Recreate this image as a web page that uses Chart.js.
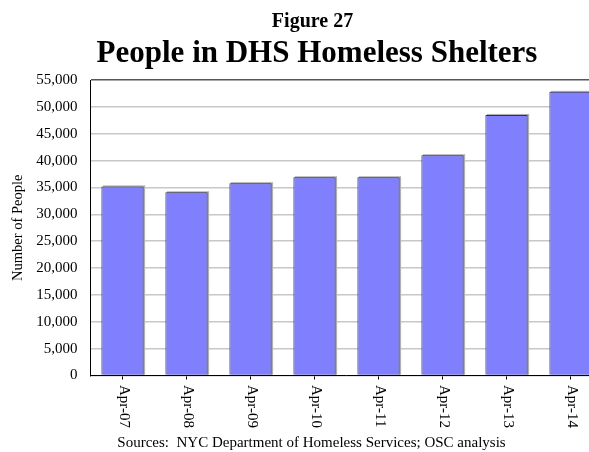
<!DOCTYPE html>
<html>
<head>
<meta charset="utf-8">
<script src="https://cdn.jsdelivr.net/npm/chart.js@4.4.1/dist/chart.umd.min.js"></script>
<style>
  html, body { margin: 0; padding: 0; background: #fff; overflow: hidden; }
  #wrap { width: 589px; height: 452px; overflow: hidden; position: relative; }
  #box { width: 610px; height: 452px; position: absolute; left: 0; top: 0; }
</style>
</head>
<body>
<div id="wrap"><div id="box"><canvas id="shelterChart"></canvas></div></div>
<script>
// data
const categories = ['Apr-07', 'Apr-08', 'Apr-09', 'Apr-10', 'Apr-11', 'Apr-12', 'Apr-13', 'Apr-14'];
const people = [35200, 34100, 35800, 36900, 36900, 41000, 48500, 52800];
const yMin = 0;
const yMax = 55000;
const yStep = 5000;

const serif = '"Liberation Serif", "Times New Roman", serif';

// titles and source line
const textPlugin = {
  id: 'figText',
  afterDraw(chart) {
    const ctx = chart.ctx;
    ctx.save();
    ctx.fillStyle = '#000';
    ctx.textAlign = 'center';
    ctx.textBaseline = 'alphabetic';
    ctx.font = 'bold 20px ' + serif;
    ctx.fillText('Figure 27', 312.5, 26.5);
    ctx.font = 'bold 31px ' + serif;
    ctx.fillText('People in DHS Homeless Shelters', 317, 62);
    ctx.font = '15px ' + serif;
    ctx.fillText('Sources:  NYC Department of Homeless Services; OSC analysis', 311.5, 447);
    ctx.restore();
  }
};

// x labels read top to bottom
const xLabelPlugin = {
  id: 'xLabels',
  afterDraw(chart) {
    const sx = chart.scales.x;
    const ctx = chart.ctx;
    ctx.save();
    ctx.font = '15px ' + serif;
    ctx.fillStyle = '#000';
    ctx.textAlign = 'left';
    ctx.textBaseline = 'middle';
    categories.forEach((lab, i) => {
      ctx.save();
      ctx.translate(sx.getPixelForTick(i) + 1, sx.top + 9.5);
      ctx.rotate(Math.PI / 2);
      ctx.fillText(lab, 0, 0);
      ctx.restore();
    });
    ctx.restore();
  }
};

// grey drop shadow behind the bars
const shadowPlugin = {
  id: 'barShadow',
  beforeDatasetsDraw(chart) {
    const ctx = chart.ctx;
    ctx.save();
    ctx.fillStyle = '#b0b0b0';
    chart.getDatasetMeta(0).data.forEach(bar => {
      const p = bar.getProps(['x', 'y', 'base', 'width'], true);
      ctx.fillRect(p.x - p.width / 2 + 1.5, p.y - 1, p.width, p.base - p.y + 1);
    });
    ctx.restore();
  }
};

const ctx = document.getElementById('shelterChart').getContext('2d');
const shelterChart = new Chart(ctx, {
  type: 'bar',
  data: {
    labels: categories,
    datasets: [{
      data: people,
      backgroundColor: '#8080ff',
      borderColor: '#2e2e5c',
      borderWidth: 1,
      barPercentage: 0.66,
      categoryPercentage: 1
    }]
  },
  options: {
    responsive: true,
    maintainAspectRatio: false,
    animation: false,
    layout: { padding: { top: 80, bottom: 6.5, left: 0, right: 7.5 } },
    plugins: {
      legend: { display: false },
      tooltip: { enabled: false }
    },
    scales: {
      x: {
        ticks: { display: false },
        grid: { display: true, drawOnChartArea: false, offset: false, tickLength: 4, color: '#000' },
        border: { display: true, color: '#000', width: 1 },
        afterFit: s => { s.height = 70; }
      },
      y: {
        min: yMin,
        max: yMax,
        ticks: {
          stepSize: yStep,
          padding: 13,
          color: '#000',
          font: { family: serif, size: 15 },
          callback: v => v.toLocaleString('en-US')
        },
        grid: {
          color: c => (c.tick && c.tick.value === yMax) ? '#555555' : '#c8c8c8',
          lineWidth: 1.5,
          drawTicks: false
        },
        border: { display: true, color: '#000', width: 1 },
        title: {
          display: true,
          text: 'Number of People',
          color: '#000',
          font: { family: serif, size: 14.5 },
          padding: { top: 9, bottom: 0 }
        },
        afterFit: s => { s.width = 90.5; }
      }
    }
  },
  plugins: [shadowPlugin, xLabelPlugin, textPlugin]
});
</script>
</body>
</html>
